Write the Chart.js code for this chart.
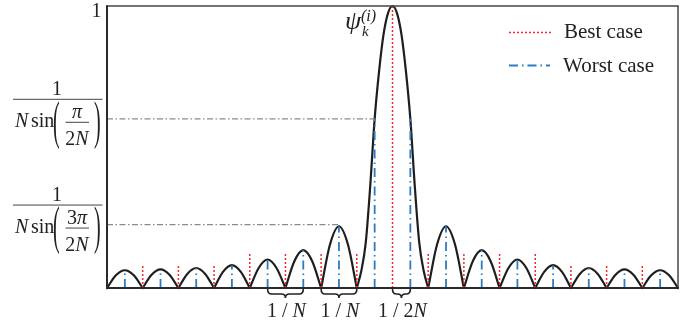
<!DOCTYPE html>
<html>
<head>
<meta charset="utf-8">
<script src="https://cdn.jsdelivr.net/npm/chart.js@4.4.0/dist/chart.umd.min.js"></script>
<style>
  html, body { margin: 0; padding: 0; background: #fff; }
  canvas { display: block; }
</style>
</head>
<body>
<canvas id="grafico" width="697" height="327"></canvas>
<script>
// eixo x em unidades de 1/N, pico principal em 0
const curveX = [
  -8, -7.75, -7.5, -7.25, -7, -7,
  -7, -6.75, -6.5, -6.25, -6, -6,
  -6, -5.75, -5.5, -5.25, -5, -5,
  -5, -4.75, -4.5, -4.25, -4, -4,
  -4, -3.75, -3.5, -3.25, -3, -3,
  -3, -2.75, -2.5, -2.25, -2, -2,
  -2, -1.75, -1.5, -1.25, -1, -1,
  -1, -0.875, -0.75, -0.625, -0.5, -0.375, -0.25, -0.125, 0,
  0.125, 0.25, 0.375, 0.5, 0.625, 0.75, 0.875, 1, 1,
  1, 1.25, 1.5, 1.75, 2, 2,
  2, 2.25, 2.5, 2.75, 3, 3,
  3, 3.25, 3.5, 3.75, 4, 4,
  4, 4.25, 4.5, 4.75, 5, 5,
  5, 5.25, 5.5, 5.75, 6, 6,
  6, 6.25, 6.5, 6.75, 7, 7,
  7, 7.25, 7.5, 7.75, 8
];
const curveY = [
  0, 0.045, 0.063, 0.045, 0, null,
  0, 0.047, 0.066, 0.047, 0, null,
  0, 0.050, 0.071, 0.050, 0, null,
  0, 0.057, 0.081, 0.057, 0, null,
  0, 0.071, 0.101, 0.071, 0, null,
  0, 0.095, 0.134, 0.095, 0, null,
  0, 0.155, 0.219, 0.155, 0, null,
  0, 0.06, 0.16, 0.36, 0.60, 0.77, 0.90, 0.975, 1,
  0.975, 0.90, 0.77, 0.60, 0.36, 0.16, 0.06, 0, null,
  0, 0.155, 0.219, 0.155, 0, null,
  0, 0.095, 0.134, 0.095, 0, null,
  0, 0.071, 0.101, 0.071, 0, null,
  0, 0.057, 0.081, 0.057, 0, null,
  0, 0.050, 0.071, 0.050, 0, null,
  0, 0.047, 0.066, 0.047, 0, null,
  0, 0.045, 0.063, 0.045, 0
];

// linhas verticais "Best case" (vermelho pontilhado)
const bestX = [-7, -6, -5, -4, -3, -2, -1, 0, 1, 2, 3, 4, 5, 6, 7];
const bestTop = [0.085, 0.085, 0.085, 0.123, 0.123, 0.123, 0.123, 1, 0.123, 0.123, 0.123, 0.123, 0.085, 0.085, 0.085];

// linhas verticais "Worst case" (azul traço-ponto)
const worstX = [-7.5, -6.5, -5.5, -4.5, -3.5, -2.5, -1.5, -0.5, 0.5, 1.5, 2.5, 3.5, 4.5, 5.5, 6.5, 7.5];
const worstTop = [0.063, 0.066, 0.071, 0.081, 0.101, 0.134, 0.219, 0.60, 0.60, 0.219, 0.134, 0.101, 0.081, 0.071, 0.066, 0.063];

// linhas horizontais de referência (cinza)
const refLevel = [0.6, 0.225];
const refEnd = [-0.5, -1.5];
const refInner = ['π', '3π'];

// chaves embaixo do eixo
const braceFrom = [-3.5, -2, 0];
const braceTo = [-2.5, -1, 0.5];
const braceText = [['1 / ', 'N'], ['1 / ', 'N'], ['1 / 2', 'N']];

const legendLabels = ['Best case', 'Worst case'];

const SERIF = '"Liberation Serif", "Times New Roman", serif';
const INK = '#222';
const RED = '#ee2a2a';
const BLUE = '#2a7cc6';

function txt(ctx, s, x, y, size, italic, align) {
  ctx.font = (italic ? 'italic ' : '') + size + 'px ' + SERIF;
  ctx.textAlign = align || 'left';
  ctx.textBaseline = 'alphabetic';
  ctx.fillText(s, x, y);
}

// partes [texto, itálico?] centradas em cx
function txtParts(ctx, parts, cx, y, size) {
  let w = 0;
  parts.forEach(p => { ctx.font = (p[1] ? 'italic ' : '') + size + 'px ' + SERIF; w += ctx.measureText(p[0]).width; });
  let x = cx - w / 2;
  parts.forEach(p => {
    txt(ctx, p[0], x, y, size, p[1]);
    x += ctx.measureText(p[0]).width;
  });
}

function hline(ctx, x1, x2, y, w) {
  ctx.beginPath();
  ctx.lineWidth = w;
  ctx.moveTo(x1, y);
  ctx.lineTo(x2, y);
  ctx.stroke();
}

function paren(ctx, s, x, cy) {
  ctx.save();
  ctx.translate(x, cy);
  ctx.scale(1, 2.6);
  txt(ctx, s, 0, 0.255 * 20, 20, false);
  ctx.restore();
}

function fracLabel(ctx, b, inner) {
  ctx.fillStyle = INK;
  ctx.strokeStyle = '#444';
  txt(ctx, '1', 57, b - 4.5, 20, false, 'center');
  hline(ctx, 13, 102.5, b, 1);
  txt(ctx, 'N', 15, b + 28, 20, true);
  txt(ctx, 'sin', 31, b + 28, 20, false);
  paren(ctx, '(', 53, b + 25);
  paren(ctx, ')', 94, b + 25);
  const parts = inner.length > 1 ? [[inner[0], false], [inner.slice(1), true]] : [[inner, true]];
  txtParts(ctx, parts, 77, b + 18.5, 20);
  hline(ctx, 65.5, 89, b + 23, 1);
  txtParts(ctx, [['2', false], ['N', true]], 77, b + 46, 20);
}

function brace(ctx, xa, xb, yTop) {
  const xc = (xa + xb) / 2, r = 4, yMid = yTop + 5, yTip = yTop + 9;
  ctx.beginPath();
  ctx.moveTo(xa, yTop);
  ctx.quadraticCurveTo(xa, yMid, xa + r, yMid);
  ctx.lineTo(xc - r, yMid);
  ctx.quadraticCurveTo(xc, yMid, xc, yTip);
  ctx.quadraticCurveTo(xc, yMid, xc + r, yMid);
  ctx.lineTo(xb - r, yMid);
  ctx.quadraticCurveTo(xb, yMid, xb, yTop);
  ctx.stroke();
}

const anotacoes = {
  id: 'anotacoes',
  afterDatasetsDraw(chart) {
    const ctx = chart.ctx;
    const a = chart.chartArea;
    const xs = chart.scales.x;
    const ys = chart.scales.y;
    ctx.save();
    ctx.setLineDash([]);

    // moldura
    ctx.strokeStyle = '#444';
    hline(ctx, a.left, a.right + 0.75, a.top, 1.5);
    ctx.beginPath(); ctx.lineWidth = 1.5; ctx.moveTo(a.right, a.top); ctx.lineTo(a.right, a.bottom); ctx.stroke();
    ctx.strokeStyle = '#2a2a2a';
    ctx.beginPath(); ctx.lineWidth = 2; ctx.moveTo(a.left, a.top - 0.75); ctx.lineTo(a.left, a.bottom + 1); ctx.stroke();
    hline(ctx, a.left - 1, a.right + 0.75, a.bottom, 2);

    // rótulos à esquerda
    ctx.fillStyle = INK;
    txt(ctx, '1', 96.5, 17, 20, false, 'center');
    refLevel.forEach((lvl, i) => {
      fracLabel(ctx, ys.getPixelForValue(lvl) - 19.5, refInner[i]);
    });

    // psi
    ctx.fillStyle = INK;
    txt(ctx, 'ψ', 345, 29, 26, true);
    txt(ctx, '(i)', 361, 21, 16, true);
    txt(ctx, 'k', 362, 36, 15, true);

    // chaves
    ctx.strokeStyle = '#222';
    ctx.lineWidth = 1.6;
    braceFrom.forEach((f, i) => {
      const xa = xs.getPixelForValue(f), xb = xs.getPixelForValue(braceTo[i]);
      brace(ctx, xa, xb, a.bottom + 1);
      ctx.fillStyle = INK;
      txtParts(ctx, [[braceText[i][0], false], [braceText[i][1], true]], (xa + xb) / 2 + 1, 317, 20);
    });

    // legenda
    ctx.strokeStyle = RED;
    ctx.setLineDash([2, 2]);
    hline(ctx, 509, 551, 32.5, 1.5);
    ctx.strokeStyle = BLUE;
    ctx.setLineDash([9, 4, 1.5, 4]);
    hline(ctx, 509, 550, 65.5, 2);
    ctx.setLineDash([]);
    ctx.fillStyle = INK;
    txt(ctx, legendLabels[0], 564, 38, 21, false);
    txt(ctx, legendLabels[1], 563, 72, 21, false);
    ctx.restore();
  }
};

const curvePts = curveX.map((x, i) => ({ x, y: curveY[i] }));
const bestPts = bestX.flatMap((x, i) => [{ x, y: 0 }, { x, y: bestTop[i] }, { x, y: null }]);
const worstPts = worstX.flatMap((x, i) => [{ x, y: 0 }, { x, y: worstTop[i] }, { x, y: null }]);
const refPts = refLevel.flatMap((lvl, i) => [{ x: -8, y: lvl }, { x: refEnd[i], y: lvl }, { x: refEnd[i], y: null }]);

const ctx = document.getElementById('grafico').getContext('2d');
const grafico = new Chart(ctx, {
  type: 'line',
  data: {
    datasets: [
      {
        label: legendLabels[0],
        data: bestPts,
        borderColor: RED,
        borderWidth: 1.5,
        borderDash: [2, 2],
        pointRadius: 0,
        tension: 0,
        clip: false,
        order: 0
      },
      {
        label: legendLabels[1],
        data: worstPts,
        borderColor: BLUE,
        borderWidth: 1.8,
        borderDash: [9, 4, 1.5, 4],
        pointRadius: 0,
        tension: 0,
        clip: false,
        order: 1
      },
      {
        label: 'ref',
        data: refPts,
        borderColor: '#8a8a8a',
        borderWidth: 1.2,
        borderDash: [6, 2.5, 1.5, 2.5],
        pointRadius: 0,
        tension: 0,
        clip: false,
        order: 2
      },
      {
        label: 'psi',
        data: curvePts,
        borderColor: '#1e1e1e',
        borderWidth: 2.2,
        pointRadius: 0,
        cubicInterpolationMode: 'monotone',
        borderCapStyle: 'round',
        borderJoinStyle: 'round',
        clip: false,
        order: 3
      }
    ]
  },
  options: {
    responsive: false,
    animation: false,
    devicePixelRatio: 1,
    layout: { padding: { left: 107, right: 19, top: 6, bottom: 39 } },
    plugins: {
      legend: { display: false },
      tooltip: { enabled: false }
    },
    scales: {
      x: { type: 'linear', min: -8, max: 8, display: false },
      y: { type: 'linear', min: 0, max: 1, display: false }
    }
  },
  plugins: [anotacoes]
});
</script>
</body>
</html>
